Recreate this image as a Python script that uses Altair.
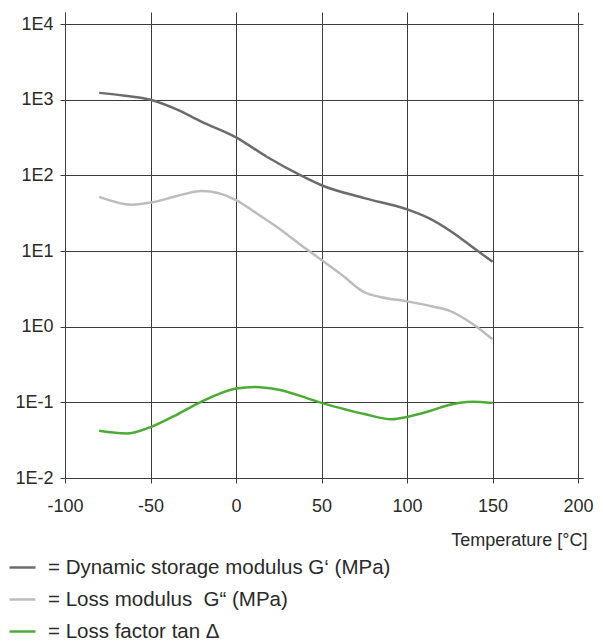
import altair as alt
import pandas as pd

# Dynamic storage modulus G' (MPa)
t_storage = [-80, -65, -50, -35, -20, 0, 18, 37, 50, 75, 100, 113, 126, 138, 150]
v_storage = [1230, 1130, 1000, 750, 510, 318, 176, 102, 74, 50, 35.5, 27, 18, 11.4, 7.2]

# Loss modulus G'' (MPa)
t_loss = [-80, -61, -49, -35, -20, -10, 0, 12.5, 25, 37.5, 50, 62.5, 75, 85, 100, 115, 125, 138, 150]
v_loss = [52, 41, 44, 53, 62, 58, 47, 31, 20, 12.2, 7.6, 4.7, 2.85, 2.45, 2.16, 1.85, 1.62, 1.1, 0.68]

# Loss factor tan delta
t_tan = [-80, -64, -50, -35, -21, 0, 11, 25, 49, 75, 91, 100, 115, 125, 138, 150]
v_tan = [0.042, 0.0386, 0.047, 0.068, 0.1, 0.152, 0.16, 0.147, 0.1, 0.07, 0.0597, 0.064, 0.079, 0.093, 0.102, 0.098]

series_names = [
    "= Dynamic storage modulus G\u2018 (MPa)",
    "= Loss modulus \u00a0G\u201c (MPa)",
    "= Loss factor tan \u0394",
]
series_colors = ["#6b6b6b", "#bcbcbc", "#4cab34"]

x_ticks = [-100, -50, 0, 50, 100, 150, 200]
y_ticks = [0.01, 0.1, 1, 10, 100, 1000, 10000]

rows = []
for name, ts, vs in zip(series_names, [t_storage, t_loss, t_tan], [v_storage, v_loss, v_tan]):
    for i, (t, v) in enumerate(zip(ts, vs)):
        rows.append({"series": name, "T": t, "v": v, "order": i})
df = pd.DataFrame(rows)

FONT = "Liberation Sans"
TXT = "#2a2a2a"
GRID = "#3c3c3c"

chart = alt.Chart(df).mark_line(strokeWidth=2.5, interpolate="monotone").encode(
    x=alt.X(
        "T:Q",
        scale=alt.Scale(domain=[-100, 202.9], nice=False, zero=False),
        axis=alt.Axis(
            values=x_ticks,
            labelExpr="toString(datum.value)",
            title="Temperature [\u00b0C]",
            titleX=522,
            titleY=62,
            titleAlign="right",
            titleBaseline="middle",
            titleFontSize=18,
            titleFontWeight="normal",
            titleFont=FONT,
            titleColor=TXT,
            labelFontSize=18,
            labelFont=FONT,
            labelColor=TXT,
            labelPadding=14,
            tickSize=5,
            tickColor=GRID,
            domainColor=GRID,
            grid=True,
            gridColor=GRID,
            gridWidth=1,
            labelFlush=False,
        ),
    ),
    y=alt.Y(
        "v:Q",
        scale=alt.Scale(type="log", domain=[0.01, 14410], nice=False),
        axis=alt.Axis(
            values=y_ticks,
            title=None,
            labelExpr="'1E' + toString(round(log(datum.value) / LN10))",
            labelFontSize=18,
            labelFont=FONT,
            labelColor=TXT,
            labelPadding=7,
            tickSize=5,
            tickColor=GRID,
            domainColor=GRID,
            grid=True,
            gridColor=GRID,
            gridWidth=1,
        ),
    ),
    color=alt.Color(
        "series:N",
        scale=alt.Scale(domain=series_names, range=series_colors),
        sort=series_names,
        legend=alt.Legend(
            orient="none",
            legendX=-57,
            legendY=541,
            direction="vertical",
            title=None,
            symbolType="stroke",
            symbolSize=676,
            symbolStrokeWidth=2.5,
            labelFontSize=20.5,
            labelFont=FONT,
            labelColor=TXT,
            labelOffset=11,
            rowPadding=7,
            padding=0,
            labelLimit=0,
        ),
    ),
    order="order:Q",
).properties(
    width=518,
    height=466,
    autosize=alt.AutoSizeParams(type="none"),
    padding={"left": 57, "top": 4, "right": 12, "bottom": 170},
).configure_view(stroke=None)

chart.save("out.html", embed_options={"renderer": "svg", "actions": False})
